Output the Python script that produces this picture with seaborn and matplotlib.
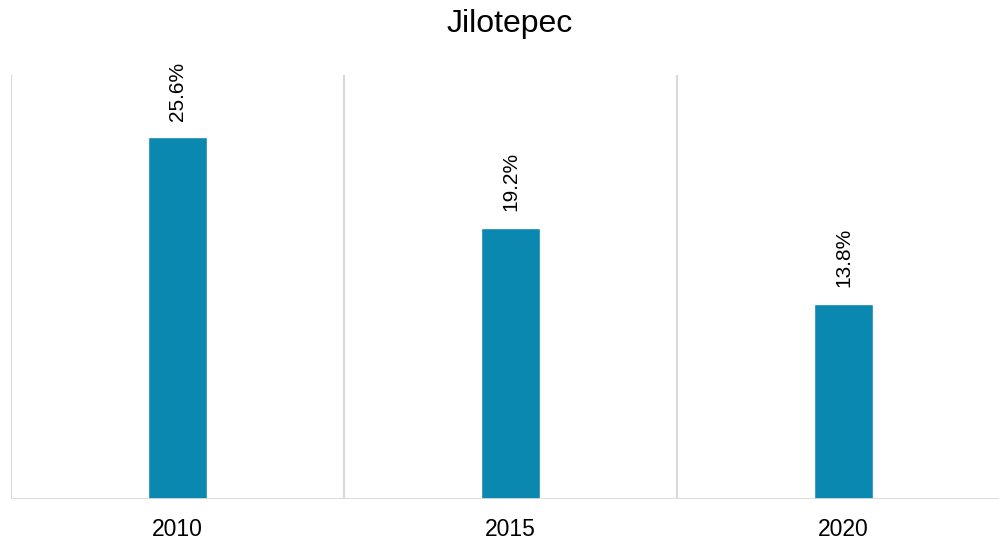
import matplotlib
matplotlib.use("Agg")
import matplotlib.pyplot as plt
import seaborn as sns
import pandas as pd

years = ["2010", "2015", "2020"]
values = [25.6, 19.2, 13.8]
labels = ["25.6%", "19.2%", "13.8%"]

sns.set_theme(style="white")
plt.rcParams["font.family"] = ["Liberation Sans", "DejaVu Sans"]

df = pd.DataFrame({"year": years, "value": values})

fig = plt.figure(figsize=(9.99, 5.41), dpi=100)
W, H = 999, 541
left, right = 11 / W, 1010 / W
bottom, top = 1 - 499 / H, 1 - 75 / H
ax = fig.add_axes([left, bottom, right - left, top - bottom])

sns.barplot(data=df, x="year", y="value", color="#0A88B0", width=0.18,
            saturation=1, ax=ax)

ax.set_xlim(-0.5, 2.5)
ax.set_ylim(0, 30)

for xb in [-0.5, 0.5, 1.5, 2.5]:
    ax.axvline(xb, color="#d9d9d9", lw=1.5, zorder=0)
ax.axhline(0, color="#d9d9d9", lw=2, zorder=3)

for i, (v, lab) in enumerate(zip(values, labels)):
    ax.annotate(lab, xy=(i, v), xytext=(0, 12), textcoords="offset points",
                rotation=90, ha="center", va="bottom", fontsize=15, color="#000000")

for s in ax.spines.values():
    s.set_visible(False)
ax.set_yticks([])
ax.set_xlabel("")
ax.set_ylabel("")
ax.tick_params(axis="x", length=0, labelsize=16.5, pad=14, colors="#000000")

fig.text(510 / W, 1 - 24 / H, "Jilotepec", ha="center", va="center",
         fontsize=23, color="#000000")

fig.savefig("out.png", dpi=100)
